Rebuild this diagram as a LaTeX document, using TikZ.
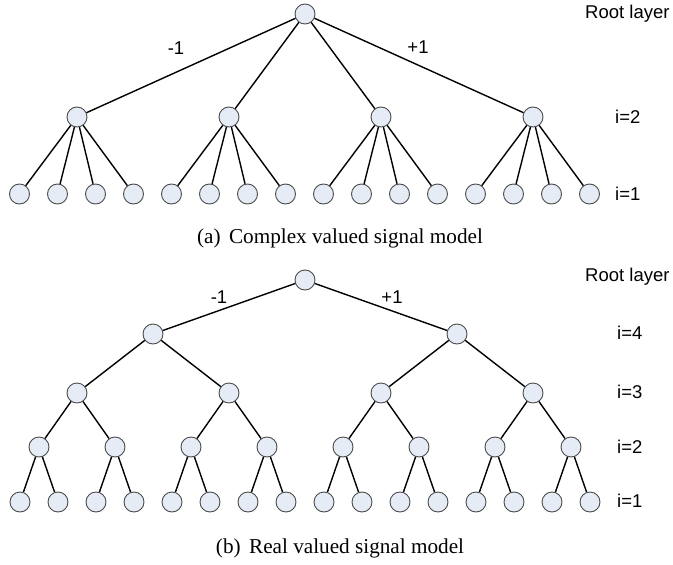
\documentclass[tikz,border=0pt]{standalone}
\usepackage{fontspec}
\setmainfont{Liberation Serif}
\setsansfont{Liberation Sans}
\definecolor{nodefill}{HTML}{E6ECF6}
\begin{document}
\begin{tikzpicture}[x=1pt,y=-1pt,
  nd/.style={circle,draw=black!70,fill=nodefill,line width=0.9pt,minimum size=20pt,inner sep=0pt},
  conn/.style={line width=1.4pt},
  lbl/.style={font=\sffamily\fontsize{18.5}{22}\selectfont,anchor=west,inner sep=0pt},
  elbl/.style={font=\sffamily\fontsize{18.5}{22}\selectfont,inner sep=0pt},
  captext/.style={font=\fontsize{21.2}{25}\selectfont,inner sep=0pt}]
\useasboundingbox (0,0) rectangle (673,565);
% ---------- (a) ----------
\node[nd] (ta) at (305,14) {};
\foreach \k in {0,...,3} \node[nd] (tb\k) at ({77+152*\k},117) {};
\foreach \k in {0,...,15} \node[nd] (tc\k) at ({19.5+38*\k},194) {};
\foreach \k in {0,...,3} \draw[conn] (ta) -- (tb\k);
\foreach \k in {0,...,15} {
  \pgfmathtruncatemacro\p{int(\k/4)}
  \draw[conn] (tb\p) -- (tc\k);
}
\node[elbl] (tm) at (176,48) {-1};
\node[elbl] (tp) at (418,47) {+1};
\node[lbl] (tr) at (585,14) {Root layer};
\node[lbl] (t2) at (615,117) {i=2};
\node[lbl] (t1) at (615,194) {i=1};
\node[captext] (capa) at (340,238) {(a)\hspace{0.4em}Complex valued signal model};
% ---------- (b) ----------
\node[nd] (ba) at (305,280) {};
\foreach \k in {0,1} \node[nd] (bb\k) at ({153+304*\k},334) {};
\foreach \k in {0,...,3} \node[nd] (bc\k) at ({77+152*\k},393) {};
\foreach \k in {0,...,7} \node[nd] (bd\k) at ({39+76*\k},447) {};
\foreach \k in {0,...,15} \node[nd] (be\k) at ({20+38*\k},502) {};
\foreach \k in {0,1} \draw[conn] (ba) -- (bb\k);
\foreach \k in {0,...,3} {
  \pgfmathtruncatemacro\p{int(\k/2)}
  \draw[conn] (bb\p) -- (bc\k);
}
\foreach \k in {0,...,7} {
  \pgfmathtruncatemacro\p{int(\k/2)}
  \draw[conn] (bc\p) -- (bd\k);
}
\foreach \k in {0,...,15} {
  \pgfmathtruncatemacro\p{int(\k/2)}
  \draw[conn] (bd\p) -- (be\k);
}
\node[elbl] (bm) at (219,297) {-1};
\node[elbl] (bp) at (392,297) {+1};
\node[lbl] (br) at (585,277) {Root layer};
\node[lbl] (b4) at (617,333) {i=4};
\node[lbl] (b3) at (617,392) {i=3};
\node[lbl] (b2) at (617,447) {i=2};
\node[lbl] (b1) at (617,501) {i=1};
\node[captext] (capb) at (340,548) {(b)\hspace{0.4em}Real valued signal model};
\end{tikzpicture}
\end{document}
